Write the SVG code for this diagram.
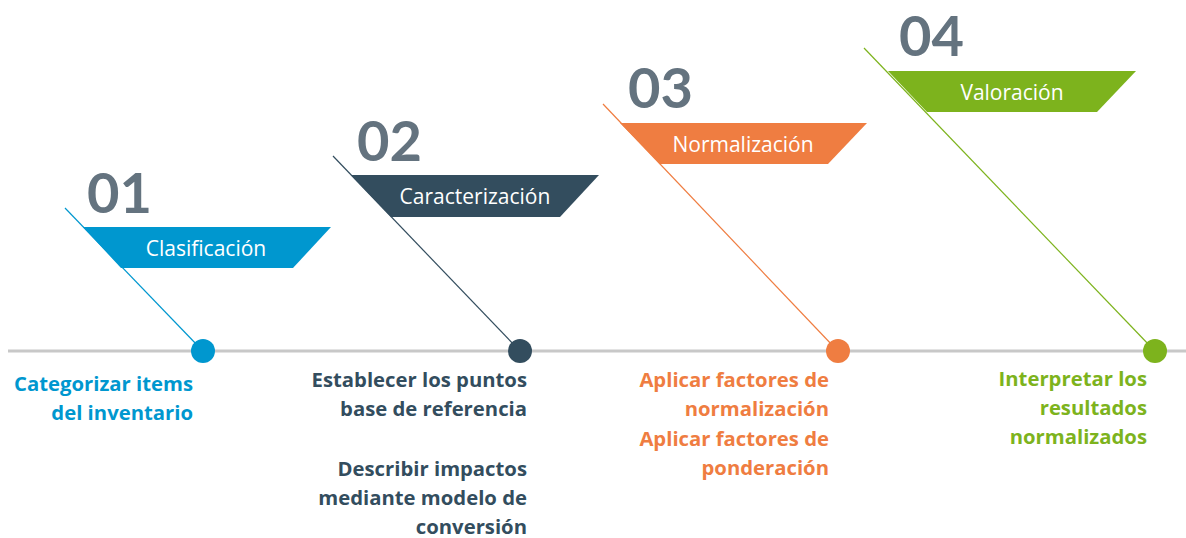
<svg xmlns="http://www.w3.org/2000/svg" width="1186" height="538" viewBox="0 0 1186 538">
<style>
.num{font-family:Lato,"Open Sans",sans-serif;font-weight:700;font-size:56px;fill:#64737f}
.ban{font-family:"Open Sans",Lato,sans-serif;font-size:21px;fill:#ffffff;text-anchor:middle}
.desc{font-family:"Open Sans",Lato,sans-serif;font-weight:700;font-size:20.3px;text-anchor:end}
.b{fill:#0097cf}.d{fill:#334d5e}.o{fill:#ef7d41}.g{fill:#7db31d}
</style>
<rect width="1186" height="538" fill="#ffffff"/>
<g id="timeline"><line x1="8" y1="351" x2="1186" y2="351" stroke="#c8c8c8" stroke-width="3"/></g>
<g id="connectors" stroke-width="1.2">
<line x1="65" y1="208" x2="199" y2="347" stroke="#0097cf"/>
<line x1="333" y1="156" x2="516" y2="347" stroke="#334d5e"/>
<line x1="603" y1="104" x2="834" y2="347" stroke="#ef7d41"/>
<line x1="864" y1="48" x2="1151" y2="347" stroke="#7db31d"/>
</g>
<g id="step1">
<text class="num" x="87" y="213">01</text>
<polygon class="b" points="83,227 331,227 293,268 121,268"/>
<text class="ban" x="206" y="256">Clasificación</text>
<circle class="b" cx="203" cy="351" r="12"/>
<text class="desc b" x="193" y="391">Categorizar items</text>
<text class="desc b" x="193" y="420">del inventario</text>
</g>
<g id="step2">
<text class="num" x="357" y="161">02</text>
<polygon class="d" points="351,175 599,175 560,217 391,217"/>
<text class="ban" x="475" y="204">Caracterización</text>
<circle class="d" cx="520" cy="351" r="12"/>
<text class="desc d" x="527" y="387">Establecer los puntos</text>
<text class="desc d" x="527" y="416">base de referencia</text>
<text class="desc d" x="527" y="476">Describir impactos</text>
<text class="desc d" x="527" y="505">mediante modelo de</text>
<text class="desc d" x="527" y="534">conversión</text>
</g>
<g id="step3">
<text class="num" x="628" y="108">03</text>
<polygon class="o" points="620,123 867,123 828,164 660,164"/>
<text class="ban" x="743" y="152">Normalización</text>
<circle class="o" cx="838" cy="351" r="12"/>
<text class="desc o" x="829" y="387">Aplicar factores de</text>
<text class="desc o" x="829" y="416">normalización</text>
<text class="desc o" x="829" y="446">Aplicar factores de</text>
<text class="desc o" x="829" y="475">ponderación</text>
</g>
<g id="step4">
<text class="num" x="899" y="56">04</text>
<polygon class="g" points="888,71 1136,71 1097,112 927,112"/>
<text class="ban" x="1012" y="100">Valoración</text>
<circle class="g" cx="1155" cy="351" r="12"/>
<text class="desc g" x="1147" y="386">Interpretar los</text>
<text class="desc g" x="1147" y="415">resultados</text>
<text class="desc g" x="1147" y="444">normalizados</text>
</g>
</svg>
